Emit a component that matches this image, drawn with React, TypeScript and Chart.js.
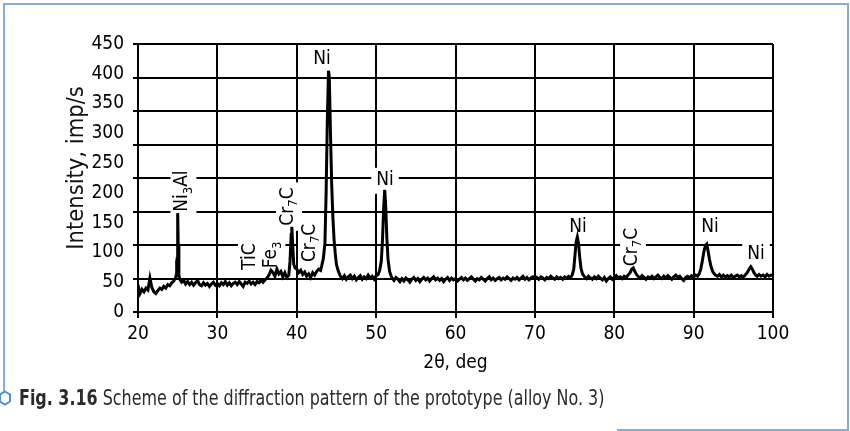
import React, { useEffect, useRef } from 'react';
import { Chart, registerables } from 'chart.js';

Chart.register(...registerables);

const FONT = "'DejaVu Sans Condensed', 'Liberation Sans', sans-serif";

// 2θ (deg) / intensity (imp/s) pairs, by region
const scan20to25: [number, number][] = [
  [20.0, 30], [20.12, 38], [20.25, 31], [20.5, 38], [20.75, 34], [21.0, 40], [21.25, 37], [21.5, 57], [21.75, 41],
  [22.0, 34], [22.25, 31], [22.5, 36], [22.75, 40], [23.0, 38], [23.25, 43], [23.5, 40], [23.75, 46],
  [24.0, 44], [24.25, 49], [24.5, 52], [24.75, 58],
];
const peakNi3Al: [number, number][] = [
  [24.82, 62], [24.87, 84], [24.93, 90], [25.0, 166], [25.07, 112], [25.15, 62],
];
const scan25to36: [number, number][] = [
  [25.25, 55], [25.5, 50], [25.75, 53], [26.0, 47], [26.25, 51], [26.5, 46], [26.75, 50], [27.0, 45],
  [27.25, 49], [27.5, 53], [27.75, 46], [28.0, 44], [28.25, 49], [28.5, 45], [28.75, 48], [29.0, 43],
  [29.25, 47], [29.5, 50], [29.75, 45], [30.0, 48], [30.25, 44], [30.5, 49], [30.75, 46], [31.0, 51],
  [31.25, 45], [31.5, 49], [31.75, 44], [32.0, 48], [32.25, 50], [32.5, 46], [32.75, 51], [33.0, 47],
  [33.25, 43], [33.5, 50], [33.75, 48], [34.0, 52], [34.25, 47], [34.5, 50], [34.75, 46], [35.0, 51],
  [35.25, 49], [35.5, 53], [35.75, 50], [36.0, 54], [36.25, 57],
];
const scan36to39: [number, number][] = [
  [36.5, 62], [36.75, 70], [37.0, 66], [37.25, 60], [37.5, 72], [37.75, 64], [38.0, 68], [38.25, 59],
  [38.5, 66], [38.75, 58], [39.0, 62],
];
const peakCr7C: [number, number][] = [
  [39.15, 85], [39.3, 130], [39.38, 143], [39.5, 110], [39.62, 80], [39.8, 74],
];
const scan40to43: [number, number][] = [
  [40.0, 72], [40.25, 66], [40.5, 70], [40.75, 63], [41.0, 67], [41.25, 60], [41.5, 64], [41.75, 58],
  [42.0, 66], [42.25, 62], [42.5, 68], [42.75, 72], [43.0, 70],
];
const peakNi111: [number, number][] = [
  [43.15, 78], [43.35, 90], [43.55, 115], [43.7, 200], [43.85, 320], [44.0, 405], [44.1, 395],
  [44.25, 300], [44.4, 215], [44.55, 160], [44.7, 122], [44.85, 98], [45.0, 80], [45.2, 70], [45.4, 63],
];
const scan45to50: [number, number][] = [
  [45.5, 60], [45.75, 56], [46.0, 61], [46.25, 55], [46.5, 59], [46.75, 62], [47.0, 56], [47.25, 60],
  [47.5, 54], [47.75, 58], [48.0, 61], [48.25, 55], [48.5, 59], [48.75, 56], [49.0, 62], [49.25, 57],
  [49.5, 60], [49.75, 55], [50.0, 61], [50.25, 63],
];
const peakNi200: [number, number][] = [
  [50.45, 70], [50.65, 85], [50.8, 120], [50.95, 175], [51.08, 205], [51.2, 180], [51.35, 125],
  [51.5, 88], [51.7, 68], [51.9, 60],
];
const scan52to74: [number, number][] = [
  [52.0, 57], [52.25, 53], [52.5, 58], [52.75, 55], [53.0, 51], [53.25, 56], [53.5, 52], [53.75, 57],
  [54.0, 54], [54.25, 50], [54.5, 55], [54.75, 58], [55.0, 53], [55.25, 56], [55.5, 51], [55.75, 55],
  [56.0, 58], [56.25, 54], [56.5, 57], [56.75, 52], [57.0, 56], [57.25, 59], [57.5, 54], [57.75, 57],
  [58.0, 53], [58.25, 56], [58.5, 51], [58.75, 55], [59.0, 58], [59.25, 53], [59.5, 57], [59.75, 54],
  [60.0, 56], [60.25, 52], [60.5, 55], [60.75, 58], [61.0, 54], [61.25, 57], [61.5, 53], [61.75, 56],
  [62.0, 59], [62.25, 55], [62.5, 52], [62.75, 56], [63.0, 54], [63.25, 58], [63.5, 55], [63.75, 52],
  [64.0, 56], [64.25, 59], [64.5, 54], [64.75, 57], [65.0, 53], [65.25, 56], [65.5, 58], [65.75, 54],
  [66.0, 57], [66.25, 55], [66.5, 59], [66.75, 56], [67.0, 53], [67.25, 57], [67.5, 55], [67.75, 58],
  [68.0, 54], [68.25, 57], [68.5, 60], [68.75, 55], [69.0, 58], [69.25, 54], [69.5, 57], [69.75, 59],
  [70.0, 56], [70.25, 58], [70.5, 55], [70.75, 59], [71.0, 57], [71.25, 54], [71.5, 58], [71.75, 56],
  [72.0, 60], [72.25, 57], [72.5, 55], [72.75, 59], [73.0, 56], [73.25, 58], [73.5, 55], [73.75, 59],
  [74.0, 57], [74.25, 60], [74.5, 58],
];
const peakNi220: [number, number][] = [
  [74.7, 62], [74.9, 72], [75.05, 95], [75.2, 118], [75.35, 126], [75.5, 115], [75.65, 92],
  [75.8, 74], [76.0, 64], [76.25, 59],
];
const scan76to82: [number, number][] = [
  [76.5, 56], [76.75, 60], [77.0, 57], [77.25, 55], [77.5, 59], [77.75, 56], [78.0, 60], [78.25, 57],
  [78.5, 54], [78.75, 58], [79.0, 52], [79.25, 56], [79.5, 59], [79.75, 55], [80.0, 58], [80.25, 61],
  [80.5, 57], [80.75, 59], [81.0, 56], [81.25, 60], [81.5, 58], [81.75, 62], [82.0, 66],
];
const peakCr7C82: [number, number][] = [
  [82.2, 72], [82.4, 74], [82.6, 68], [82.8, 63],
];
const scan83to90: [number, number][] = [
  [83.0, 60], [83.25, 57], [83.5, 61], [83.75, 58], [84.0, 55], [84.25, 59], [84.5, 57], [84.75, 60],
  [85.0, 56], [85.25, 59], [85.5, 62], [85.75, 58], [86.0, 56], [86.25, 60], [86.5, 57], [86.75, 61],
  [87.0, 58], [87.25, 55], [87.5, 59], [87.75, 62], [88.0, 58], [88.25, 60], [88.5, 56], [88.75, 53],
  [89.0, 58], [89.25, 60], [89.5, 57], [89.75, 61], [90.0, 59], [90.25, 62], [90.5, 60],
];
const peakNi311: [number, number][] = [
  [90.7, 64], [90.9, 72], [91.1, 86], [91.3, 102], [91.5, 112], [91.65, 114], [91.8, 104],
  [92.0, 88], [92.2, 76], [92.4, 68], [92.6, 64],
];
const scan93to100: [number, number][] = [
  [92.75, 62], [93.0, 60], [93.25, 63], [93.5, 59], [93.75, 62], [94.0, 58], [94.25, 61], [94.5, 59],
  [94.75, 62], [95.0, 58], [95.25, 60], [95.5, 62], [95.75, 59], [96.0, 61], [96.25, 58], [96.5, 62],
  [96.75, 66], [97.0, 72], [97.2, 76], [97.4, 72], [97.6, 66], [97.8, 62], [98.0, 60], [98.25, 63],
  [98.5, 60], [98.75, 62], [99.0, 59], [99.25, 63], [99.5, 60], [99.75, 62], [100.0, 61],
];

// Peak annotations: text runs (second element true = subscript), anchored at (2θ, intensity)
type Run = [string, boolean];
const peakLabels: { runs: Run[]; at: [number, number]; vertical: boolean }[] = [
  { runs: [['Ni', false], ['3', true], ['Al', false]], at: [25.6, 203], vertical: true },
  { runs: [['TiC', false]], at: [34.1, 93], vertical: true },
  { runs: [['Fe', false], ['3', true]], at: [36.8, 96], vertical: true },
  { runs: [['Cr', false], ['7', true], ['C', false]], at: [38.9, 177], vertical: true },
  { runs: [['Cr', false], ['7', true], ['C', false]], at: [41.67, 116], vertical: true },
  { runs: [['Ni', false]], at: [43.18, 424], vertical: false },
  { runs: [['Ni', false]], at: [51.12, 222], vertical: false },
  { runs: [['Ni', false]], at: [75.43, 143], vertical: false },
  { runs: [['Cr', false], ['7', true], ['C', false]], at: [82.24, 109], vertical: true },
  { runs: [['Ni', false]], at: [92.06, 143], vertical: false },
  { runs: [['Ni', false]], at: [97.86, 98], vertical: false },
];

const xTickValues = [20, 30, 40, 50, 60, 70, 80, 90, 100];

const scan = [
  ...scan20to25, ...peakNi3Al, ...scan25to36, ...scan36to39, ...peakCr7C, ...scan40to43,
  ...peakNi111, ...scan45to50, ...peakNi200, ...scan52to74, ...peakNi220, ...scan76to82,
  ...peakCr7C82, ...scan83to90, ...peakNi311, ...scan93to100,
];

const MAIN_FONT = `19px ${FONT}`;
const SUB_FONT = `13px ${FONT}`;

const labelPlugin = {
  id: 'peakLabels',
  beforeDatasetsDraw(chart: any) {
    const { ctx, scales } = chart;
    const xs = scales.x;
    const ys = scales.y;
    ctx.save();
    for (const lab of peakLabels) {
      const px = xs.getPixelForValue(lab.at[0]);
      const py = ys.getPixelForValue(lab.at[1]);
      ctx.save();
      ctx.translate(px, py);
      if (lab.vertical) ctx.rotate(-Math.PI / 2);
      let w = 0;
      const widths: number[] = [];
      for (const [t, s] of lab.runs) {
        ctx.font = s ? SUB_FONT : MAIN_FONT;
        const m = ctx.measureText(t).width;
        widths.push(m);
        w += m;
      }
      const h = 16;
      ctx.fillStyle = '#ffffff';
      ctx.fillRect(-w / 2 - 5, -h / 2 - 4, w + 10, h + 10);
      ctx.fillStyle = '#000000';
      ctx.textBaseline = 'middle';
      ctx.textAlign = 'left';
      let cx = -w / 2;
      lab.runs.forEach(([t, s], i) => {
        ctx.font = s ? SUB_FONT : MAIN_FONT;
        ctx.fillText(t, cx, s ? 6 : 0);
        cx += widths[i];
      });
      ctx.restore();
    }
    ctx.restore();
  },
};

function XrdChart() {
  const ref = useRef<HTMLCanvasElement | null>(null);
  useEffect(() => {
    if (!ref.current) return;
    const chart = new Chart(ref.current, {
      type: 'line',
      data: {
        datasets: [
          {
            data: scan.map(([x, y]) => ({ x, y })),
            borderColor: '#000000',
            borderWidth: 3,
            pointRadius: 0,
            tension: 0,
            fill: false,
          },
        ],
      },
      options: {
        responsive: false,
        animation: false,
        devicePixelRatio: 1,
        layout: { padding: { left: 0, top: 44, right: 77, bottom: 49 } },
        plugins: { legend: { display: false }, tooltip: { enabled: false }, title: { display: false } },
        scales: {
          x: {
            type: 'linear',
            min: 20,
            max: 100,
            afterBuildTicks: (s: any) => { s.ticks = xTickValues.map((v) => ({ value: v })); },
            afterFit: (s: any) => { s.height = 70; },
            grid: { color: '#000000', lineWidth: 2, drawTicks: true, tickLength: 6, tickColor: '#000000' },
            border: { display: true, color: '#000000', width: 2 },
            ticks: { color: '#000000', font: { family: FONT, size: 19 }, padding: 5, maxRotation: 0 },
            title: { display: true, text: '2θ, deg', color: '#000000', font: { family: FONT, size: 19 }, padding: { top: 0, bottom: 8 } },
          },
          y: {
            type: 'linear',
            position: 'left',
            weight: 1,
            min: 0,
            max: 450,
            ticks: { stepSize: 50, color: '#000000', font: { family: FONT, size: 19 }, padding: 8 },
            grid: { display: false, drawTicks: false },
            border: { display: false },
            afterFit: (s: any) => { s.width = 132; },
            title: { display: true, text: '   Intensity, imp/s', color: '#111111', font: { family: FONT, size: 23.5 }, padding: { top: 63, bottom: 0 } },
          },
          y2: {
            type: 'linear',
            position: 'left',
            weight: 0,
            min: 0,
            max: 400,
            ticks: { stepSize: 50, display: false },
            grid: { color: '#000000', lineWidth: 2, drawTicks: true, tickLength: 5, tickColor: '#000000' },
            border: { display: true, color: '#000000', width: 2 },
            afterFit: (s: any) => { s.width = 6; },
          },
        },
      },
      plugins: [labelPlugin],
    });
    return () => chart.destroy();
  }, []);
  return <canvas ref={ref} width={850} height={431} style={{ position: 'absolute', left: 0, top: 0 }} />;
}

export default function App() {
  const frame = '#86acdf';
  return (
    <div style={{ position: 'fixed', left: 0, top: 0, width: 850, height: 431, background: '#ffffff', overflow: 'hidden' }}>
      <XrdChart />
      <div style={{ position: 'absolute', left: 3, top: 3, width: 846, height: 2, background: frame }} />
      <div style={{ position: 'absolute', left: 3, top: 3, width: 2, height: 390, background: frame }} />
      <div style={{ position: 'absolute', left: 847, top: 3, width: 2, height: 428, background: frame }} />
      <div style={{ position: 'absolute', left: 617, top: 429, width: 232, height: 2, background: frame }} />
      <svg width="12" height="16" viewBox="0 0 12 16" style={{ position: 'absolute', left: -1, top: 390 }}>
        <polygon points="6,1.5 11,4.5 11,11.5 6,14.5 1,11.5 1,4.5" fill="none" stroke="#4a90d9" strokeWidth="2" />
      </svg>
      <div style={{ position: 'absolute', left: 19, top: 385, whiteSpace: 'nowrap', fontFamily: FONT, fontSize: 22, color: '#2a2a2a', lineHeight: '26px', transform: 'scaleX(0.805)', transformOrigin: '0 0' }}>
        <b>Fig. 3.16</b> Scheme of the diffraction pattern of the prototype (alloy No. 3)
      </div>
    </div>
  );
}
